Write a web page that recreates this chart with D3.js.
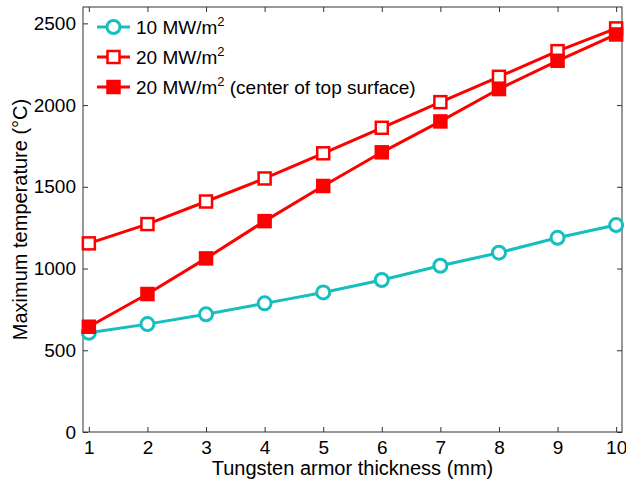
<!DOCTYPE html>
<html>
<head>
<meta charset="utf-8">
<script src="https://cdn.jsdelivr.net/npm/d3@7"></script>
<style>
  body { margin: 0; background: #fff; }
  text { font-family: "Liberation Sans", Arial, sans-serif; fill: #000; }
</style>
</head>
<body>
<div id="chart"></div>
<script>
  // datos
  var thickness = [1, 2, 3, 4, 5, 6, 7, 8, 9, 10];
  var flux10 = [607, 660, 720, 787, 854, 930, 1017, 1097, 1188, 1266];
  var flux20 = [1154, 1272, 1410, 1551, 1705, 1861, 2018, 2173, 2330, 2469];
  var flux20center = [644, 844, 1062, 1290, 1505, 1711, 1900, 2098, 2271, 2432];
  var yTicks = [0, 500, 1000, 1500, 2000, 2500];

  var W = 626, H = 481;
  var margin = {top: 7, right: 4, bottom: 49, left: 83},
      width = W - margin.left - margin.right,
      height = H - margin.top - margin.bottom;

  var svg = d3.select("#chart").append("svg")
      .attr("width", W).attr("height", H)
    .append("g")
      .attr("transform", "translate(" + margin.left + "," + margin.top + ")");

  var x = d3.scaleLinear().domain([0.9, 10.1]).range([0, width]);
  var y = d3.scaleLinear().domain([0, 2600]).range([height, 0]);

  // ejes (ticks hacia dentro, en los cuatro lados)
  var tk = 5;
  svg.append("g").attr("transform", "translate(0," + height + ")")
    .call(d3.axisBottom(x).tickValues(thickness).tickSize(-tk).tickPadding(9).tickSizeOuter(0));
  svg.append("g")
    .call(d3.axisLeft(y).tickValues(yTicks).tickFormat(d3.format("d")).tickSize(-tk).tickPadding(7).tickSizeOuter(0));
  svg.append("g").call(d3.axisTop(x).tickValues(thickness).tickSize(-tk).tickFormat("").tickSizeOuter(0));
  svg.append("g").attr("transform", "translate(" + width + ",0)")
    .call(d3.axisRight(y).tickValues(yTicks).tickSize(-tk).tickFormat("").tickSizeOuter(0));
  svg.selectAll(".domain").remove();
  svg.selectAll(".tick line").attr("stroke", "#333");
  svg.selectAll(".tick text").style("font-size", "19px").style("font-family", "Liberation Sans, Arial, sans-serif");

  svg.append("rect")
    .attr("width", width).attr("height", height)
    .attr("fill", "none").attr("stroke", "#333").attr("stroke-width", 1);

  // titulos de los ejes
  svg.append("text")
    .attr("x", x(5.5)).attr("y", height + 43)
    .attr("text-anchor", "middle").style("font-size", "20px")
    .text("Tungsten armor thickness (mm)");
  svg.append("text")
    .attr("transform", "translate(" + (-56) + "," + (height / 2) + ") rotate(-90)")
    .attr("text-anchor", "middle").style("font-size", "20px")
    .text("Maximum temperature (\u00B0C)");

  var cyan = "#17BEBE", red = "#FF0000";
  var series = [
    {name: "10 MW/m", extra: "", values: flux10, color: cyan, marker: "circle", fill: "#fff"},
    {name: "20 MW/m", extra: "", values: flux20, color: red, marker: "square", fill: "#fff"},
    {name: "20 MW/m", extra: " (center of top surface)", values: flux20center, color: red, marker: "square", fill: red}
  ];

  var line = d3.line()
    .x(function(d, i) { return x(thickness[i]); })
    .y(function(d) { return y(d); });

  function drawMarker(g, s, cx, cy) {
    if (s.marker == "circle") {
      g.append("circle").attr("cx", cx).attr("cy", cy).attr("r", 6.5)
        .attr("fill", s.fill).attr("stroke", s.color).attr("stroke-width", 3);
    } else {
      g.append("rect").attr("x", cx - 6).attr("y", cy - 6).attr("width", 12).attr("height", 12)
        .attr("fill", s.fill).attr("stroke", s.color).attr("stroke-width", 2.5);
    }
  }

  series.forEach(function(s) {
    svg.append("path").datum(s.values)
      .attr("d", line).attr("fill", "none")
      .attr("stroke", s.color).attr("stroke-width", 3);
    var g = svg.append("g");
    s.values.forEach(function(v, i) { drawMarker(g, s, x(thickness[i]), y(v)); });
  });

  // leyenda
  var leg = svg.append("g").attr("transform", "translate(14,20)");
  series.forEach(function(s, i) {
    var row = leg.append("g").attr("transform", "translate(0," + (i * 30) + ")");
    row.append("line").attr("x1", 0).attr("x2", 33).attr("y1", 0).attr("y2", 0)
      .attr("stroke", s.color).attr("stroke-width", 3);
    drawMarker(row, s, 16.5, 0);
    var t = row.append("text").attr("x", 39).attr("y", 7).style("font-size", "19px");
    t.append("tspan").text(s.name);
    t.append("tspan").attr("dy", -8).style("font-size", "13px").text("2");
    t.append("tspan").attr("dy", 8).text(s.extra);
  });
</script>
</body>
</html>
